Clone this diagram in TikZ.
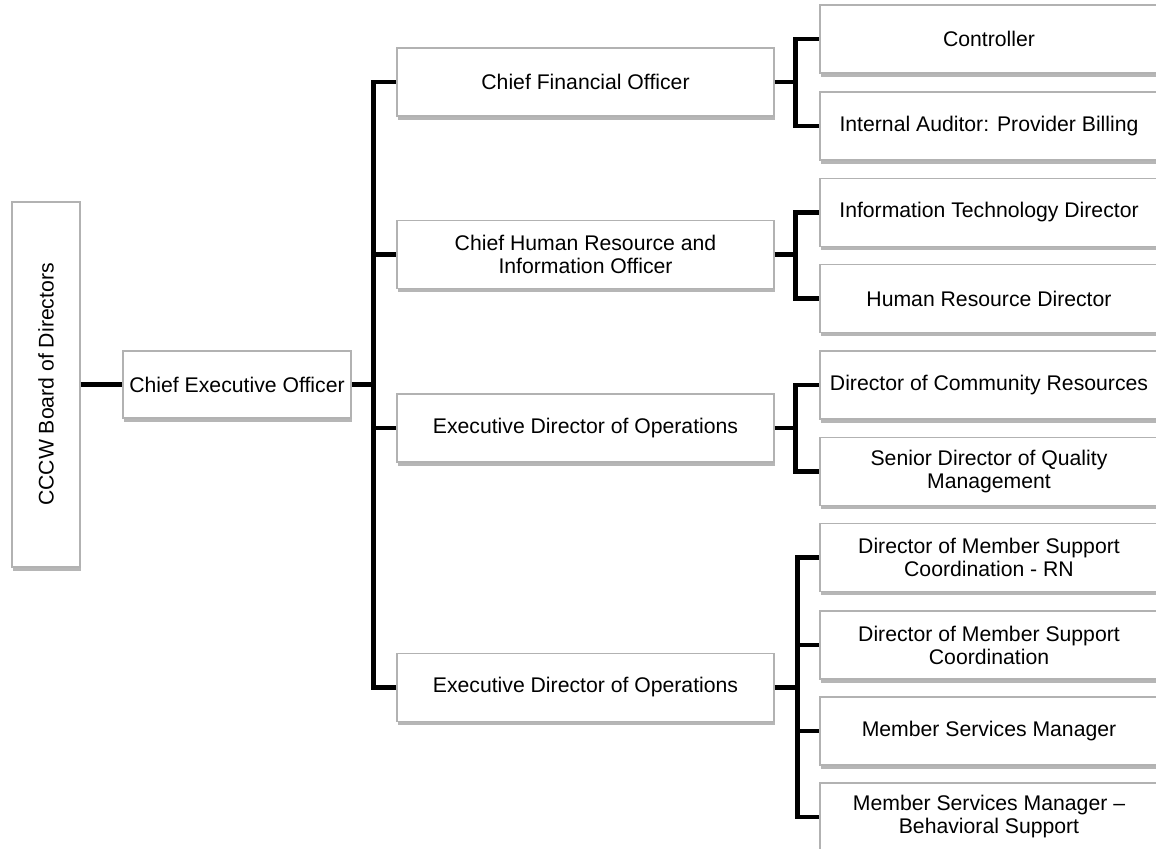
\documentclass[tikz,border=0pt]{standalone}
\usepackage{fontspec}
\setmainfont{Liberation Sans}
\usetikzlibrary{shadows,positioning}
\definecolor{cadre}{RGB}{178,178,178}
\definecolor{ombre}{RGB}{110,110,110}
\tikzset{
  box/.style={rectangle, draw=cadre, line width=0.6pt, fill=white, align=center,
              font=\fontsize{10.6}{11.5}\selectfont, inner sep=1pt, minimum height=34pt,
              drop shadow={shadow xshift=0.7pt, shadow yshift=-1.8pt, fill=ombre, opacity=0.5}},
  lvltwo/.style={box, minimum width=188.5pt},
  lvlthree/.style={box, minimum width=169pt},
  conn/.style={line width=2.4pt, draw=black},
}

\begin{document}
\begin{tikzpicture}[x=0.5pt, y=-0.5pt]
  \clip (0,0) rectangle (1156,849);
  \fill[white] (0,0) rectangle (1156,849);
  % board and CEO
  \node[box, minimum width=34pt, minimum height=182.5pt] (board) at (46,384.5)
    {\rotatebox{90}{CCCW Board of Directors}};
  \node[box, minimum width=114pt, minimum height=33.5pt] (ceo) at (237,384.5)
    {Chief Executive Officer};
  % second level
  \node[lvltwo] (cfo) at (585.5,82) {Chief Financial Officer};
  \node[lvltwo] (chrio) at (585.5,254.5) {Chief Human Resource and\\Information Officer};
  \node[lvltwo] (edoa) at (585.5,428) {Executive Director of Operations};
  \node[lvltwo] (edob) at (585.5,687.5) {Executive Director of Operations};
  % third level
  \node[lvlthree] (ctrl) at (989,39) {Controller};
  \node[lvlthree] (audit) at (989,126) {Internal Auditor: Provider Billing};
  \node[lvlthree] (itdir) at (989,212.5) {Information Technology Director};
  \node[lvlthree] (hrdir) at (989,298.5) {Human Resource Director};
  \node[lvlthree] (dcr) at (989,385) {Director of Community Resources};
  \node[lvlthree] (sdqm) at (989,471.5) {Senior Director of Quality\\Management};
  \node[lvlthree] (dmsrn) at (989,557.5) {Director of Member Support\\Coordination - RN};
  \node[lvlthree] (dmsc) at (989,645) {Director of Member Support\\Coordination};
  \node[lvlthree] (msm) at (989,731) {Member Services Manager};
  \node[lvlthree] (msmbs) at (989,817) {Member Services Manager --\\Behavioral Support};
  % connectors
  \draw[conn] (board.east) -- (ceo.west);
  \draw[conn] (ceo.east) -- ++(22,0) coordinate (ta);
  \foreach \n in {cfo,chrio,edoa,edob} \draw[conn] (ta) |- (\n.west);
  \draw[conn] (cfo.east) -- ++(21,0) coordinate (tb);
  \foreach \n in {ctrl,audit} \draw[conn] (tb) |- (\n.west);
  \draw[conn] (chrio.east) -- ++(21,0) coordinate (tc);
  \foreach \n in {itdir,hrdir} \draw[conn] (tc) |- (\n.west);
  \draw[conn] (edoa.east) -- ++(21,0) coordinate (td);
  \foreach \n in {dcr,sdqm} \draw[conn] (td) |- (\n.west);
  \draw[conn] (edob.east) -- ++(23,0) coordinate (te);
  \foreach \n in {dmsrn,dmsc,msm,msmbs} \draw[conn] (te) |- (\n.west);
\end{tikzpicture}
\end{document}
